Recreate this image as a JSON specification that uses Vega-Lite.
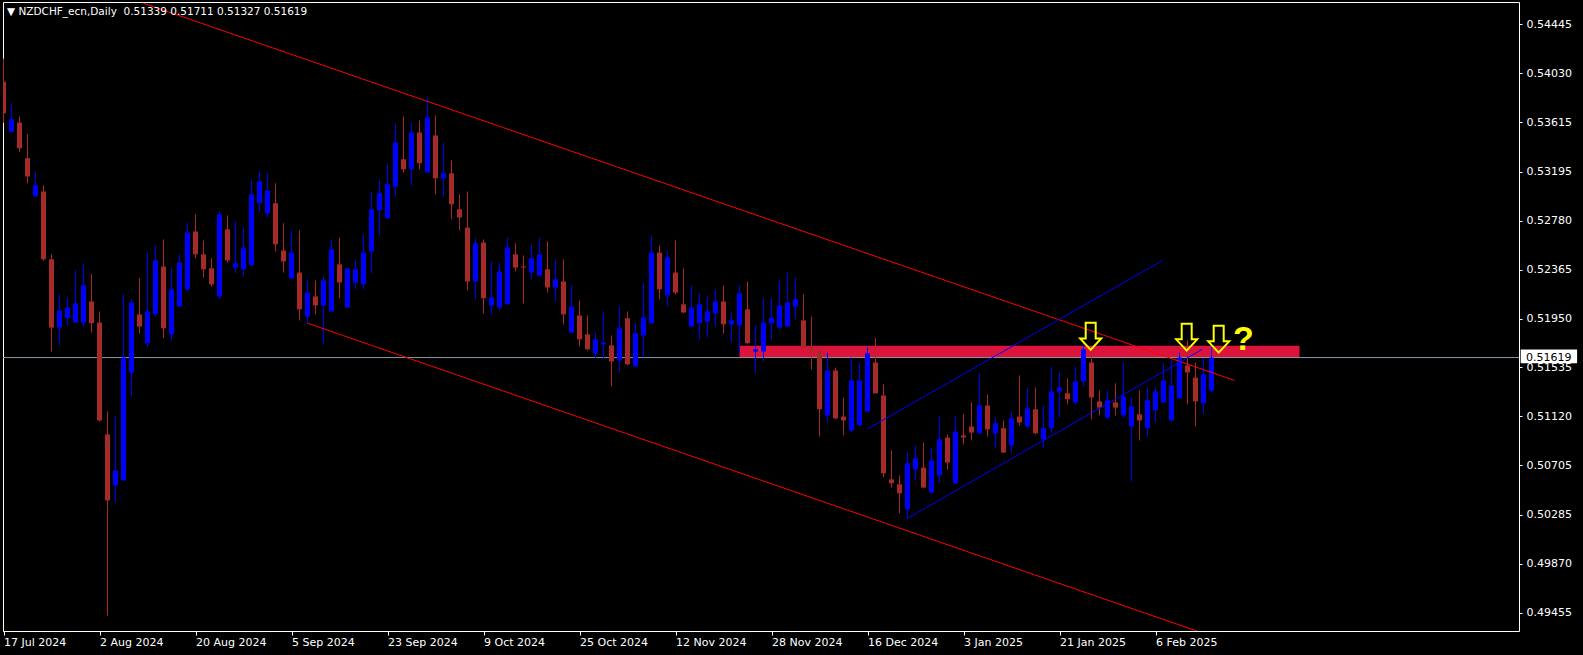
{
  "$schema": "https://vega.github.io/schema/vega-lite/v6.json",
  "width": 1516,
  "height": 629,
  "autosize": {"type": "none"},
  "padding": {"left": 3, "top": 2, "right": 64, "bottom": 24},
  "background": "#000000",
  "title": {
    "text": "\u25bc\u00a0NZDCHF_ecn,Daily\u00a0\u00a00.51339 0.51711 0.51327 0.51619",
    "anchor": "start",
    "frame": "group",
    "orient": "top",
    "offset": -15,
    "baseline": "top",
    "dx": 4,
    "color": "#ffffff",
    "font": "DejaVu Sans",
    "fontSize": 10.5,
    "fontWeight": "normal"
  },
  "config": {
    "view": {"stroke": "#ffffff", "strokeWidth": 1, "fill": "#000000"},
    "axis": {
      "domain": false,
      "grid": false,
      "tickColor": "#ffffff",
      "labelColor": "#ffffff",
      "labelFont": "DejaVu Sans",
      "labelFontSize": 11,
      "title": null
    }
  },
  "datasets": {
    "ohlc": [
      {"i":0,"o":0.53957,"h":0.54153,"l":0.53608,"c":0.53690},
      {"i":1,"o":0.53533,"h":0.53775,"l":0.53524,"c":0.53639},
      {"i":2,"o":0.53611,"h":0.53663,"l":0.53360,"c":0.53393},
      {"i":3,"o":0.53309,"h":0.53512,"l":0.53097,"c":0.53154},
      {"i":4,"o":0.52985,"h":0.53197,"l":0.52983,"c":0.53079},
      {"i":5,"o":0.53027,"h":0.53079,"l":0.52437,"c":0.52452},
      {"i":6,"o":0.52452,"h":0.52494,"l":0.51670,"c":0.51873},
      {"i":7,"o":0.51873,"h":0.52155,"l":0.51722,"c":0.52019},
      {"i":8,"o":0.51952,"h":0.52128,"l":0.51892,"c":0.52043},
      {"i":9,"o":0.51916,"h":0.52358,"l":0.51914,"c":0.52079},
      {"i":10,"o":0.51916,"h":0.52418,"l":0.51882,"c":0.52231},
      {"i":11,"o":0.52094,"h":0.52325,"l":0.51831,"c":0.51910},
      {"i":12,"o":0.51916,"h":0.52010,"l":0.51077,"c":0.51086},
      {"i":13,"o":0.50968,"h":0.51162,"l":0.49430,"c":0.50408},
      {"i":14,"o":0.50535,"h":0.51119,"l":0.50390,"c":0.50662},
      {"i":15,"o":0.50577,"h":0.52155,"l":0.50575,"c":0.51619},
      {"i":16,"o":0.51492,"h":0.52113,"l":0.51292,"c":0.52085},
      {"i":17,"o":0.51985,"h":0.52291,"l":0.51825,"c":0.51882},
      {"i":18,"o":0.51740,"h":0.52509,"l":0.51707,"c":0.52010},
      {"i":19,"o":0.51985,"h":0.52570,"l":0.51967,"c":0.52443},
      {"i":20,"o":0.52391,"h":0.52621,"l":0.51783,"c":0.51867},
      {"i":21,"o":0.51816,"h":0.52376,"l":0.51764,"c":0.52197},
      {"i":22,"o":0.52052,"h":0.52494,"l":0.52050,"c":0.52425},
      {"i":23,"o":0.52197,"h":0.52764,"l":0.52179,"c":0.52679},
      {"i":24,"o":0.52688,"h":0.52833,"l":0.52461,"c":0.52494},
      {"i":25,"o":0.52494,"h":0.52612,"l":0.52297,"c":0.52367},
      {"i":26,"o":0.52376,"h":0.52461,"l":0.52222,"c":0.52240},
      {"i":27,"o":0.52137,"h":0.52858,"l":0.52113,"c":0.52833},
      {"i":28,"o":0.52706,"h":0.52824,"l":0.52425,"c":0.52443},
      {"i":29,"o":0.52382,"h":0.52773,"l":0.52334,"c":0.52418},
      {"i":30,"o":0.52367,"h":0.52721,"l":0.52306,"c":0.52546},
      {"i":31,"o":0.52400,"h":0.53121,"l":0.52398,"c":0.53003},
      {"i":32,"o":0.52927,"h":0.53197,"l":0.52858,"c":0.53112},
      {"i":33,"o":0.52842,"h":0.53181,"l":0.52806,"c":0.53036},
      {"i":34,"o":0.52927,"h":0.53097,"l":0.52518,"c":0.52579},
      {"i":35,"o":0.52527,"h":0.52758,"l":0.52340,"c":0.52434},
      {"i":36,"o":0.52291,"h":0.52697,"l":0.52289,"c":0.52509},
      {"i":37,"o":0.52340,"h":0.52697,"l":0.51934,"c":0.52028},
      {"i":38,"o":0.51967,"h":0.52282,"l":0.51901,"c":0.52170},
      {"i":39,"o":0.52137,"h":0.52273,"l":0.51985,"c":0.52061},
      {"i":40,"o":0.52061,"h":0.52306,"l":0.51731,"c":0.52273},
      {"i":41,"o":0.52010,"h":0.52621,"l":0.52008,"c":0.52537},
      {"i":42,"o":0.52409,"h":0.52636,"l":0.52122,"c":0.52255},
      {"i":43,"o":0.52043,"h":0.52378,"l":0.52041,"c":0.52376},
      {"i":44,"o":0.52255,"h":0.52443,"l":0.52197,"c":0.52367},
      {"i":45,"o":0.52240,"h":0.52664,"l":0.52197,"c":0.52509},
      {"i":46,"o":0.52518,"h":0.53027,"l":0.52334,"c":0.52876},
      {"i":47,"o":0.52867,"h":0.53121,"l":0.52655,"c":0.53012},
      {"i":48,"o":0.52800,"h":0.53257,"l":0.52798,"c":0.53088},
      {"i":49,"o":0.53069,"h":0.53596,"l":0.52985,"c":0.53442},
      {"i":50,"o":0.53300,"h":0.53663,"l":0.53188,"c":0.53215},
      {"i":51,"o":0.53215,"h":0.53611,"l":0.53079,"c":0.53527},
      {"i":52,"o":0.53527,"h":0.53630,"l":0.53215,"c":0.53266},
      {"i":53,"o":0.53188,"h":0.53823,"l":0.53186,"c":0.53654},
      {"i":54,"o":0.53502,"h":0.53672,"l":0.53003,"c":0.53139},
      {"i":55,"o":0.53139,"h":0.53436,"l":0.52985,"c":0.53181},
      {"i":56,"o":0.53181,"h":0.53291,"l":0.52791,"c":0.52918},
      {"i":57,"o":0.52876,"h":0.53003,"l":0.52697,"c":0.52806},
      {"i":58,"o":0.52721,"h":0.53027,"l":0.52188,"c":0.52264},
      {"i":59,"o":0.52264,"h":0.52630,"l":0.52113,"c":0.52588},
      {"i":60,"o":0.52594,"h":0.52621,"l":0.51994,"c":0.52122},
      {"i":61,"o":0.52061,"h":0.52434,"l":0.51985,"c":0.52128},
      {"i":62,"o":0.52043,"h":0.52425,"l":0.52028,"c":0.52349},
      {"i":63,"o":0.52070,"h":0.52636,"l":0.52068,"c":0.52552},
      {"i":64,"o":0.52494,"h":0.52588,"l":0.52349,"c":0.52382},
      {"i":65,"o":0.52391,"h":0.52485,"l":0.52079,"c":0.52382},
      {"i":66,"o":0.52340,"h":0.52579,"l":0.52282,"c":0.52461},
      {"i":67,"o":0.52315,"h":0.52636,"l":0.52306,"c":0.52494},
      {"i":68,"o":0.52367,"h":0.52603,"l":0.52170,"c":0.52213},
      {"i":69,"o":0.52213,"h":0.52443,"l":0.52094,"c":0.52282},
      {"i":70,"o":0.52264,"h":0.52452,"l":0.51901,"c":0.51985},
      {"i":71,"o":0.51831,"h":0.52231,"l":0.51829,"c":0.52052},
      {"i":72,"o":0.51976,"h":0.52104,"l":0.51713,"c":0.51773},
      {"i":73,"o":0.51816,"h":0.51976,"l":0.51680,"c":0.51689},
      {"i":74,"o":0.51655,"h":0.51831,"l":0.51613,"c":0.51773},
      {"i":75,"o":0.51731,"h":0.52001,"l":0.51613,"c":0.51746},
      {"i":76,"o":0.51722,"h":0.51807,"l":0.51374,"c":0.51586},
      {"i":77,"o":0.51595,"h":0.52052,"l":0.51501,"c":0.51867},
      {"i":78,"o":0.51952,"h":0.52010,"l":0.51553,"c":0.51562},
      {"i":79,"o":0.51543,"h":0.51910,"l":0.51541,"c":0.51825},
      {"i":80,"o":0.51807,"h":0.52249,"l":0.51619,"c":0.51958},
      {"i":81,"o":0.51910,"h":0.52646,"l":0.51908,"c":0.52509},
      {"i":82,"o":0.52509,"h":0.52570,"l":0.52113,"c":0.52197},
      {"i":83,"o":0.52146,"h":0.52527,"l":0.52052,"c":0.52467},
      {"i":84,"o":0.52340,"h":0.52612,"l":0.52155,"c":0.52170},
      {"i":85,"o":0.52070,"h":0.52376,"l":0.51994,"c":0.52001},
      {"i":86,"o":0.51882,"h":0.52231,"l":0.51880,"c":0.52043},
      {"i":87,"o":0.51910,"h":0.52164,"l":0.51773,"c":0.52070},
      {"i":88,"o":0.51925,"h":0.52137,"l":0.51789,"c":0.52010},
      {"i":89,"o":0.51994,"h":0.52197,"l":0.51882,"c":0.52094},
      {"i":90,"o":0.52094,"h":0.52231,"l":0.51825,"c":0.51901},
      {"i":91,"o":0.51901,"h":0.52001,"l":0.51746,"c":0.51934},
      {"i":92,"o":0.51892,"h":0.52231,"l":0.51655,"c":0.52164},
      {"i":93,"o":0.52028,"h":0.52264,"l":0.51738,"c":0.51740},
      {"i":94,"o":0.51670,"h":0.51892,"l":0.51486,"c":0.51689},
      {"i":95,"o":0.51670,"h":0.52122,"l":0.51586,"c":0.51916},
      {"i":96,"o":0.51910,"h":0.52122,"l":0.51764,"c":0.51958},
      {"i":97,"o":0.51873,"h":0.52273,"l":0.51858,"c":0.52061},
      {"i":98,"o":0.51882,"h":0.52340,"l":0.51880,"c":0.52085},
      {"i":99,"o":0.52052,"h":0.52297,"l":0.51943,"c":0.52113},
      {"i":100,"o":0.51934,"h":0.52155,"l":0.51698,"c":0.51704},
      {"i":101,"o":0.51704,"h":0.51967,"l":0.51519,"c":0.51680},
      {"i":102,"o":0.51670,"h":0.51722,"l":0.50950,"c":0.51180},
      {"i":103,"o":0.51129,"h":0.51661,"l":0.51068,"c":0.51510},
      {"i":104,"o":0.51510,"h":0.51534,"l":0.51095,"c":0.51104},
      {"i":105,"o":0.51119,"h":0.51280,"l":0.50959,"c":0.51086},
      {"i":106,"o":0.51001,"h":0.51619,"l":0.50983,"c":0.51425},
      {"i":107,"o":0.51044,"h":0.51571,"l":0.51042,"c":0.51425},
      {"i":108,"o":0.51162,"h":0.51704,"l":0.51153,"c":0.51655},
      {"i":109,"o":0.51577,"h":0.51783,"l":0.51314,"c":0.51316},
      {"i":110,"o":0.51298,"h":0.51392,"l":0.50602,"c":0.50638},
      {"i":111,"o":0.50586,"h":0.50832,"l":0.50517,"c":0.50553},
      {"i":112,"o":0.50544,"h":0.50620,"l":0.50299,"c":0.50468},
      {"i":113,"o":0.50332,"h":0.50814,"l":0.50256,"c":0.50723},
      {"i":114,"o":0.50671,"h":0.50874,"l":0.50577,"c":0.50765},
      {"i":115,"o":0.50686,"h":0.50898,"l":0.50511,"c":0.50517},
      {"i":116,"o":0.50474,"h":0.50850,"l":0.50472,"c":0.50747},
      {"i":117,"o":0.50620,"h":0.51119,"l":0.50559,"c":0.50926},
      {"i":118,"o":0.50941,"h":0.50968,"l":0.50671,"c":0.50729},
      {"i":119,"o":0.50553,"h":0.51119,"l":0.50544,"c":0.50992},
      {"i":120,"o":0.50959,"h":0.51138,"l":0.50883,"c":0.50941},
      {"i":121,"o":0.51035,"h":0.51238,"l":0.50917,"c":0.50983},
      {"i":122,"o":0.50977,"h":0.51486,"l":0.50975,"c":0.51213},
      {"i":123,"o":0.51213,"h":0.51307,"l":0.50950,"c":0.51010},
      {"i":124,"o":0.50977,"h":0.51110,"l":0.50856,"c":0.51062},
      {"i":125,"o":0.51020,"h":0.51086,"l":0.50812,"c":0.50814},
      {"i":126,"o":0.50874,"h":0.51162,"l":0.50808,"c":0.51104},
      {"i":127,"o":0.51119,"h":0.51468,"l":0.51044,"c":0.51068},
      {"i":128,"o":0.51035,"h":0.51359,"l":0.51020,"c":0.51189},
      {"i":129,"o":0.51180,"h":0.51365,"l":0.50968,"c":0.50977},
      {"i":130,"o":0.50926,"h":0.51213,"l":0.50850,"c":0.51020},
      {"i":131,"o":0.51020,"h":0.51543,"l":0.50983,"c":0.51331},
      {"i":132,"o":0.51331,"h":0.51492,"l":0.51110,"c":0.51365},
      {"i":133,"o":0.51316,"h":0.51443,"l":0.51222,"c":0.51265},
      {"i":134,"o":0.51238,"h":0.51543,"l":0.51222,"c":0.51416},
      {"i":135,"o":0.51416,"h":0.51746,"l":0.51374,"c":0.51689},
      {"i":136,"o":0.51577,"h":0.51661,"l":0.51095,"c":0.51280},
      {"i":137,"o":0.51247,"h":0.51340,"l":0.51129,"c":0.51195},
      {"i":138,"o":0.51110,"h":0.51340,"l":0.51095,"c":0.51256},
      {"i":139,"o":0.51238,"h":0.51401,"l":0.51129,"c":0.51195},
      {"i":140,"o":0.51129,"h":0.51577,"l":0.51110,"c":0.51289},
      {"i":141,"o":0.51035,"h":0.51280,"l":0.50568,"c":0.51204},
      {"i":142,"o":0.51138,"h":0.51340,"l":0.50917,"c":0.51086},
      {"i":143,"o":0.51020,"h":0.51365,"l":0.50950,"c":0.51256},
      {"i":144,"o":0.51171,"h":0.51365,"l":0.51068,"c":0.51331},
      {"i":145,"o":0.51238,"h":0.51571,"l":0.51236,"c":0.51425},
      {"i":146,"o":0.51086,"h":0.51595,"l":0.51077,"c":0.51383},
      {"i":147,"o":0.51274,"h":0.51661,"l":0.51272,"c":0.51619},
      {"i":148,"o":0.51553,"h":0.51764,"l":0.51222,"c":0.51492},
      {"i":149,"o":0.51449,"h":0.51577,"l":0.51035,"c":0.51247},
      {"i":150,"o":0.51232,"h":0.51613,"l":0.51138,"c":0.51477},
      {"i":151,"o":0.51339,"h":0.51711,"l":0.51327,"c":0.51619}
    ],
    "trendlines": [
      {"line":"falling upper","i":17.4,"p":0.54625},
      {"line":"falling upper","i":153.9,"p":0.51425},
      {"line":"falling lower","i":38,"p":0.51910},
      {"line":"falling lower","i":155,"p":0.49164},
      {"line":"rising upper","i":108,"p":0.51014},
      {"line":"rising upper","i":144.9,"p":0.52443},
      {"line":"rising lower","i":113,"p":0.50256},
      {"line":"rising lower","i":149.85,"p":0.51689}
    ],
    "zone": [
      {"i":92,"i2":162,"p":0.51622,"p2":0.51720}
    ],
    "bid": [
      {"p":0.51619}
    ],
    "arrows": [
      {"i":135.9,"p":0.51799},
      {"i":147.9,"p":0.51792},
      {"i":151.9,"p":0.51775}
    ],
    "question": [
      {"i":155.0,"p":0.51772,"label":"?"}
    ],
    "pricebox": [
      {"i":189.65,"i2":196.7,"p":0.51570,"p2":0.51687,"tx":190.3,"price":0.51619,"label":"0.51619"}
    ]
  },
  "encoding": {
    "x": {
      "type": "quantitative",
      "scale": {"domain": [-0.0625, 189.4375], "nice": false, "zero": false, "padding": 0},
      "axis": {
        "orient": "bottom",
        "values": [0,12,24,36,48,60,72,84,96,108,120,132,144],
        "labelExpr": "['17 Jul 2024','2 Aug 2024','20 Aug 2024','5 Sep 2024','23 Sep 2024','9 Oct 2024','25 Oct 2024','12 Nov 2024','28 Nov 2024','16 Dec 2024','3 Jan 2025','21 Jan 2025','6 Feb 2025'][round(datum.value/12)]",
        "tickSize": 4,
        "labelAlign": "left",
        "labelBaseline": "top",
        "labelPadding": 1,
        "labelOverlap": false,
        "labelFlush": false,
        "title": null
      }
    },
    "y": {
      "type": "quantitative",
      "scale": {"domain": [0.493009, 0.546332], "nice": false, "zero": false, "padding": 0},
      "axis": {
        "orient": "right",
        "values": [0.54445,0.54030,0.53615,0.53195,0.52780,0.52365,0.51950,0.51535,0.51120,0.50705,0.50285,0.49870,0.49455],
        "format": ".5f",
        "tickSize": 3,
        "labelPadding": 4,
        "labelAlign": "left",
        "labelBaseline": "middle",
        "labelOverlap": false,
        "labelFlush": false,
        "title": null
      }
    }
  },
  "layer": [
    {
      "data": {"name": "zone"},
      "mark": {"type": "rect", "color": "#DC143C", "opacity": 1},
      "encoding": {
        "x": {"field": "i"},
        "x2": {"field": "i2"},
        "y": {"field": "p"},
        "y2": {"field": "p2"}
      }
    },
    {
      "data": {"name": "bid"},
      "mark": {"type": "rule", "color": "#8899aa", "strokeWidth": 1},
      "encoding": {
        "x": null,
        "y": {"field": "p"}
      }
    },
    {
      "data": {"name": "ohlc"},
      "mark": {"type": "rule", "strokeWidth": 1, "clip": true},
      "encoding": {
        "x": {"field": "i"},
        "y": {"field": "l"},
        "y2": {"field": "h"},
        "color": {"condition": {"test": "datum.c >= datum.o", "value": "#0000ff"}, "value": "#a52a2a"}
      }
    },
    {
      "data": {"name": "ohlc"},
      "mark": {"type": "bar", "width": 5, "clip": true},
      "encoding": {
        "x": {"field": "i"},
        "y": {"field": "o"},
        "y2": {"field": "c"},
        "color": {"condition": {"test": "datum.c >= datum.o", "value": "#0000ff"}, "value": "#a52a2a"}
      }
    },
    {
      "data": {"name": "trendlines"},
      "mark": {"type": "line", "strokeWidth": 1, "clip": true},
      "encoding": {
        "x": {"field": "i"},
        "y": {"field": "p"},
        "color": {"field": "line", "type": "nominal", "legend": null,
          "scale": {"domain": ["falling upper","falling lower","rising upper","rising lower"], "range": ["#ff0000","#ff0000","#0000ff","#0000ff"]}}
      }
    },
    {
      "data": {"name": "arrows"},
      "mark": {"type": "point", "shape": "M -0.37 -1 L 0.37 -1 L 0.37 0.16 L 0.78 0.16 L 0 1 L -0.78 0.16 L -0.37 0.16 Z", "size": 729, "filled": false, "stroke": "#ffff00", "strokeWidth": 2, "opacity": 1},
      "encoding": {
        "x": {"field": "i"},
        "y": {"field": "p"}
      }
    },
    {
      "data": {"name": "question"},
      "mark": {"type": "text", "color": "#ffff00", "font": "Liberation Sans", "fontWeight": "bold", "fontSize": 34, "align": "center", "baseline": "middle"},
      "encoding": {
        "x": {"field": "i"},
        "y": {"field": "p"},
        "text": {"field": "label"}
      }
    },
    {
      "data": {"name": "pricebox"},
      "mark": {"type": "rect", "color": "#ffffff", "clip": false},
      "encoding": {
        "x": {"field": "i"},
        "x2": {"field": "i2"},
        "y": {"field": "p"},
        "y2": {"field": "p2"}
      }
    },
    {
      "data": {"name": "pricebox"},
      "mark": {"type": "text", "color": "#000000", "font": "DejaVu Sans", "fontSize": 11, "align": "left", "baseline": "middle", "clip": false},
      "encoding": {
        "x": {"field": "tx"},
        "y": {"field": "price"},
        "text": {"field": "label"}
      }
    }
  ]
}
